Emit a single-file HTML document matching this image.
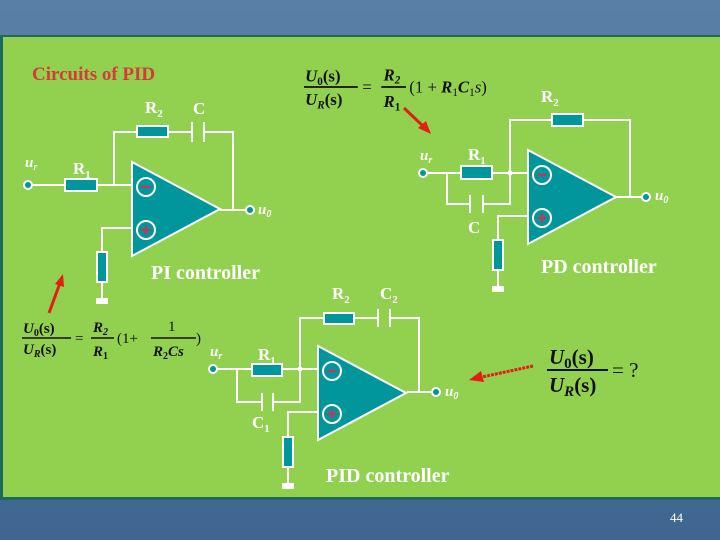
<!DOCTYPE html>
<html><head><meta charset="utf-8"><style>
html,body{margin:0;padding:0;width:720px;height:540px;overflow:hidden}
svg{display:block}
text{font-family:"Liberation Serif",serif}
</style></head><body>
<svg width="720" height="540" viewBox="0 0 720 540" xmlns="http://www.w3.org/2000/svg">
<defs>
<linearGradient id="bg" x1="0" y1="0" x2="0" y2="1">
<stop offset="0" stop-color="#5a7fa6"/><stop offset="1" stop-color="#3f6690"/>
</linearGradient>
<g id="amp">
<polygon points="0,0 0,94 88,47" fill="#00969b" stroke="#fff" stroke-width="2"/>
<circle cx="14" cy="25" r="9" fill="none" stroke="#fff" stroke-width="2"/>
<line x1="9" y1="25" x2="19" y2="25" stroke="#d0305a" stroke-width="2"/>
<circle cx="14" cy="68" r="9" fill="none" stroke="#fff" stroke-width="2"/>
<line x1="9" y1="68" x2="19" y2="68" stroke="#d0305a" stroke-width="2"/>
<line x1="14" y1="63" x2="14" y2="73" stroke="#d0305a" stroke-width="2"/>
</g>
</defs>
<rect width="720" height="540" fill="url(#bg)"/>
<rect x="0" y="35" width="720" height="465" fill="#1d6a5a"/>
<rect x="3" y="37" width="717" height="460" fill="#92d050"/>
<text x="670" y="522" font-family="Liberation Sans,sans-serif" font-size="13" fill="#fff">44</text>

<text x="32" y="80" font-size="19" font-weight="bold" fill="#d83a3a">Circuits of PID</text>

<g stroke="#fff" stroke-width="2" fill="none">
<path d="M28,185 H132 M114,185 V132 H192 M204,132 H233 V210 H250 M220,210 H233 M192,122 V142 M204,122 V142 M132,228 H102 V300"/>
<path d="M423,173 H528 M447,173 V204 H470 M483,204 H510 V120 H630 V197 H646 M617,197 H630 M470,195 V213 M483,195 V213 M528,216 H498 V288"/>
<path d="M213,369 H318 M237,369 V402 H262 M273,402 H300 V318 H378 M390,318 H419 V392 H436 M407,392 H419 M378,309 V327 M390,309 V327 M262,393 V411 M273,393 V411 M318,412 H288 V485"/>
</g>
<g fill="#00969b" stroke="#fff" stroke-width="2">
<rect x="65" y="179" width="32" height="12"/>
<rect x="137" y="126" width="31" height="11"/>
<rect x="97" y="252" width="10" height="30"/>
<rect x="461" y="166" width="31" height="13"/>
<rect x="552" y="114" width="31" height="12"/>
<rect x="493" y="240" width="10" height="30"/>
<rect x="252" y="364" width="30" height="12"/>
<rect x="324" y="313" width="30" height="11"/>
<rect x="283" y="437" width="10" height="30"/>
</g>
<g fill="#fff">
<rect x="96" y="298" width="12" height="6"/>
<rect x="492" y="286" width="12" height="6"/>
<rect x="282" y="483" width="12" height="6"/>
<circle cx="510" cy="173" r="2.5"/><circle cx="300" cy="369" r="2.5"/>
</g>
<use href="#amp" x="132" y="162"/>
<use href="#amp" x="528" y="150"/>
<use href="#amp" x="318" y="346"/>
<g fill="#00969b" stroke="#fff" stroke-width="2">
<circle cx="28" cy="185" r="4"/><circle cx="250" cy="210" r="4"/>
<circle cx="423" cy="173" r="4"/><circle cx="646" cy="197" r="4"/>
<circle cx="213" cy="369" r="4"/><circle cx="436" cy="392" r="4"/>
</g>

<g fill="#fff" font-weight="bold" font-size="17">
<text x="145" y="113">R<tspan font-size="11" dy="4">2</tspan></text>
<text x="193" y="114">C</text>
<text x="73" y="174">R<tspan font-size="11" dy="4">1</tspan></text>
<text x="468" y="160">R<tspan font-size="11" dy="4">1</tspan></text>
<text x="541" y="102">R<tspan font-size="11" dy="4">2</tspan></text>
<text x="468" y="233">C</text>
<text x="332" y="299">R<tspan font-size="11" dy="4">2</tspan></text>
<text x="380" y="299">C<tspan font-size="11" dy="4">2</tspan></text>
<text x="258" y="360">R<tspan font-size="11" dy="4">1</tspan></text>
<text x="252" y="428">C<tspan font-size="11" dy="4">1</tspan></text>
<g font-style="italic" font-size="15">
<text x="25" y="167">u<tspan font-size="10" dy="3">r</tspan></text>
<text x="420" y="160">u<tspan font-size="10" dy="3">r</tspan></text>
<text x="210" y="356">u<tspan font-size="10" dy="3">r</tspan></text>
<text x="258" y="214">u<tspan font-size="10" dy="3">0</tspan></text>
<text x="655" y="200">u<tspan font-size="10" dy="3">0</tspan></text>
<text x="445" y="396">u<tspan font-size="10" dy="3">0</tspan></text>
</g>
<text x="151" y="279" font-size="20">PI controller</text>
<text x="541" y="273" font-size="20">PD controller</text>
<text x="326" y="482" font-size="20">PID controller</text>
</g>

<g fill="#111" font-size="15">
<g transform="translate(304,87) scale(1.12) translate(-304,-86)">
<text x="305" y="81" font-weight="bold" font-style="italic">U<tspan font-size="10" dy="3" font-style="normal">0</tspan><tspan dy="-3" font-style="normal">(s)</tspan></text>
<line x1="304" y1="86" x2="352" y2="86" stroke="#111" stroke-width="1.5"/>
<text x="305" y="102" font-weight="bold" font-style="italic">U<tspan font-size="10" dy="3">R</tspan><tspan dy="-3" font-style="normal">(s)</tspan></text>
<text x="356" y="91">=</text>
<text x="375" y="80" font-weight="bold" font-style="italic">R<tspan font-size="10" dy="3">2</tspan></text>
<line x1="373" y1="86" x2="395" y2="86" stroke="#111" stroke-width="1.5"/>
<text x="375" y="104" font-weight="bold" font-style="italic">R<tspan font-size="10" dy="3" font-style="normal">1</tspan></text>
<text x="398" y="91">(1 + <tspan font-weight="bold" font-style="italic">R</tspan><tspan font-size="10" dy="3">1</tspan><tspan dy="-3" font-weight="bold" font-style="italic">C</tspan><tspan font-size="10" dy="3">1</tspan><tspan dy="-3" font-style="italic">s</tspan>)</text>
</g>

<text x="23" y="333" font-weight="bold" font-style="italic">U<tspan font-size="10" dy="3" font-style="normal">0</tspan><tspan dy="-3" font-style="normal">(s)</tspan></text>
<line x1="22" y1="338" x2="71" y2="338" stroke="#111" stroke-width="1.5"/>
<text x="23" y="354" font-weight="bold" font-style="italic">U<tspan font-size="10" dy="3">R</tspan><tspan dy="-3" font-style="normal">(s)</tspan></text>
<text x="75" y="343">=</text>
<text x="93" y="332" font-weight="bold" font-style="italic">R<tspan font-size="10" dy="3">2</tspan></text>
<line x1="91" y1="338" x2="114" y2="338" stroke="#111" stroke-width="1.5"/>
<text x="93" y="356" font-weight="bold" font-style="italic">R<tspan font-size="10" dy="3" font-style="normal">1</tspan></text>
<text x="117" y="343">(1+</text>
<text x="168" y="331">1</text>
<line x1="151" y1="338" x2="196" y2="338" stroke="#111" stroke-width="1.5"/>
<text x="153" y="356" font-weight="bold" font-style="italic">R<tspan font-size="10" dy="3" font-style="normal">2</tspan><tspan dy="-3">Cs</tspan></text>
<text x="196" y="343">)</text>

<g font-size="21">
<text x="549" y="364" font-weight="bold" font-style="italic">U<tspan font-size="15" dy="4" font-style="normal">0</tspan><tspan dy="-4" font-style="normal">(s)</tspan></text>
<line x1="547" y1="370" x2="608" y2="370" stroke="#111" stroke-width="2"/>
<text x="549" y="392" font-weight="bold" font-style="italic">U<tspan font-size="15" dy="4">R</tspan><tspan dy="-4" font-style="normal">(s)</tspan></text>
<text x="612" y="377">= ?</text>
</g>
</g>

<g stroke="#e02010" stroke-width="3" fill="#e02010">
<line x1="404" y1="108" x2="424" y2="127"/>
<polygon points="431,134 418,128 426,121" stroke="none"/>
<line x1="49" y1="313" x2="60" y2="283"/>
<polygon points="63,274 64,287 55,284" stroke="none"/>
<line x1="533" y1="366" x2="482" y2="377" stroke-dasharray="3,1"/>
<polygon points="469,380 481,371 484,382" stroke="none"/>
</g>
</svg>
</body></html>
